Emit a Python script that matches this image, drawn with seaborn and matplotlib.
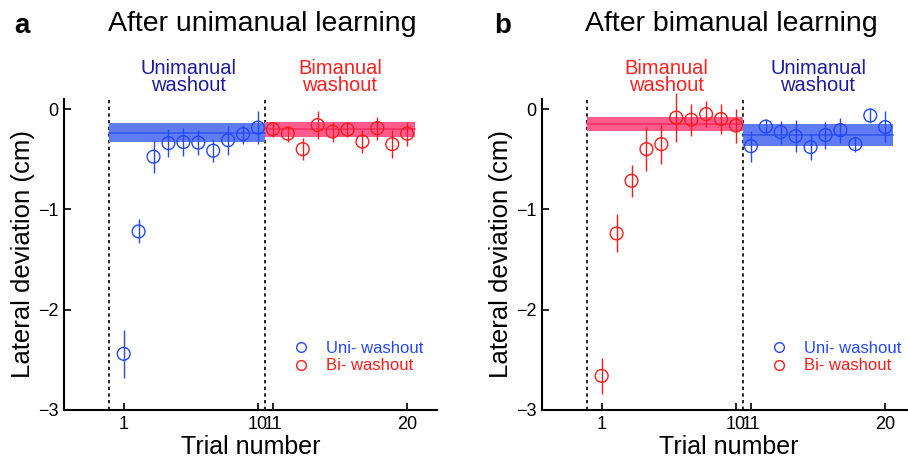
import matplotlib
matplotlib.use("Agg")
import matplotlib.pyplot as plt
import seaborn as sns
import numpy as np
from matplotlib.lines import Line2D

sns.set_style("ticks")
plt.rcParams['font.family'] = ['Liberation Sans', 'DejaVu Sans']
for k in ["text.color", "axes.labelcolor", "xtick.color", "ytick.color", "axes.edgecolor"]:
    plt.rcParams[k] = "black"

# ---- data ----
trials_first = [1, 2, 3, 4, 5, 6, 7, 8, 9, 10]
trials_second = [11, 12, 13, 14, 15, 16, 17, 18, 19, 20]
xtick_vals = [1, 10, 11, 20]
xtick_labels = ["1", "10", "11", "20"]
ytick_vals = [0, -1, -2, -3]

# panel a: after unimanual learning
a_uni_mean = [-2.44, -1.22, -0.475, -0.34, -0.33, -0.335, -0.415, -0.31, -0.25, -0.185]
a_uni_err = [0.24, 0.12, 0.165, 0.14, 0.14, 0.125, 0.115, 0.145, 0.095, 0.165]
a_bi_mean = [-0.20, -0.245, -0.40, -0.16, -0.225, -0.205, -0.325, -0.19, -0.35, -0.245]
a_bi_err = [0.075, 0.08, 0.11, 0.14, 0.10, 0.075, 0.115, 0.115, 0.14, 0.12]
a_band_uni = (-0.236, 0.092)
a_band_bi = (-0.200, 0.075)

# panel b: after bimanual learning
b_bi_mean = [-2.66, -1.24, -0.715, -0.40, -0.35, -0.085, -0.107, -0.05, -0.10, -0.165]
b_bi_err = [0.18, 0.19, 0.16, 0.22, 0.195, 0.245, 0.16, 0.13, 0.15, 0.17]
b_uni_mean = [-0.37, -0.175, -0.23, -0.27, -0.38, -0.26, -0.21, -0.35, -0.065, -0.18]
b_uni_err = [0.155, 0.075, 0.115, 0.16, 0.13, 0.135, 0.125, 0.08, 0.075, 0.16]
b_band_bi = (-0.152, 0.068)
b_band_uni = (-0.255, 0.110)

BLUE = "#2547ff"
RED = "#ff1a1a"
BLUE_BAND = "#5f7cf2"
RED_BAND = "#ff5c8d"
BLUE_LINE = "#3556f0"
RED_LINE = "#ff2f62"
NAVY = "#1c1ca0"
ANN_RED = "#ff2020"

W, H = 908, 463
fig = plt.figure(figsize=(W / 100, H / 100), dpi=100)

ax_w = 373 / W
ax_h = 311 / H
ax_b = (H - 410) / H
axes = [fig.add_axes([64 / W, ax_b, ax_w, ax_h]),
        fig.add_axes([542 / W, ax_b, ax_w, ax_h])]

panels = [
    dict(ax=axes[0], first=(a_uni_mean, a_uni_err, BLUE), second=(a_bi_mean, a_bi_err, RED),
         band1=(a_band_uni, BLUE_BAND, BLUE_LINE), band2=(a_band_bi, RED_BAND, RED_LINE),
         ann1=("Unimanual\nwashout", NAVY), ann2=("Bimanual\nwashout", ANN_RED),
         title="After unimanual learning", title_x=262, letter="a", letter_x=14),
    dict(ax=axes[1], first=(b_bi_mean, b_bi_err, RED), second=(b_uni_mean, b_uni_err, BLUE),
         band1=(b_band_bi, RED_BAND, RED_LINE), band2=(b_band_uni, BLUE_BAND, BLUE_LINE),
         ann1=("Bimanual\nwashout", ANN_RED), ann2=("Unimanual\nwashout", NAVY),
         title="After bimanual learning", title_x=731, letter="b", letter_x=494),
]

for p in panels:
    ax = p["ax"]
    # bands
    for (mean_sem, fc, lc), (x0, x1) in [(p["band1"], (0, 10.5)), (p["band2"], (10.5, 20.5))]:
        m, s = mean_sem
        ax.fill_between([x0, x1], [m - s, m - s], [m + s, m + s], color=fc, lw=0, zorder=1)
        ax.plot([x0, x1], [m, m], color=lc, lw=1.2, zorder=2)
    # dashed separators
    for xv in [0, 10.5]:
        ax.axvline(xv, color="black", ls=(0, (2, 2)), lw=1.2, zorder=0)
    # points
    for xs, (mean, err, c) in [(trials_first, p["first"]), (trials_second, p["second"])]:
        ax.errorbar(xs, mean, yerr=err, fmt="none", ecolor=c, elinewidth=1.0, capsize=0,
                    zorder=3, clip_on=False)
        sns.scatterplot(x=xs, y=mean, ax=ax, marker="o", s=85, facecolor="none",
                        edgecolor=c, linewidth=1.0, zorder=4, clip_on=False)
    # annotations
    ax.text(5.35, 0.32, p["ann1"][0], color=p["ann1"][1], ha="center", va="center",
            fontsize=14.5, linespacing=0.9, clip_on=False)
    ax.text(15.5, 0.32, p["ann2"][0], color=p["ann2"][1], ha="center", va="center",
            fontsize=14.5, linespacing=0.9, clip_on=False)

    ax.set_xlim(-3, 22)
    ax.set_ylim(-3, 0.1)
    ax.set_xticks(xtick_vals)
    ax.set_xticklabels(xtick_labels)
    ax.set_yticks(ytick_vals)
    ax.set_yticklabels([f"\u2212{abs(v)}" if v < 0 else str(v) for v in ytick_vals])
    ax.tick_params(direction="in", length=5, width=1.2, labelsize=13, pad=4)
    sns.despine(ax=ax)
    for sp in ["left", "bottom"]:
        ax.spines[sp].set_linewidth(1.5)
    ax.set_xlabel("Trial number", fontsize=18, labelpad=2)
    ax.set_ylabel("Lateral deviation (cm)", fontsize=18.5, labelpad=2)

    handles = [Line2D([], [], ls="none", marker="o", ms=7, mfc="none", mec=BLUE, mew=1.0),
               Line2D([], [], ls="none", marker="o", ms=7, mfc="none", mec=RED, mew=1.0)]
    ax.legend(handles, ["Uni- washout", "Bi- washout"], loc="center left",
              bbox_to_anchor=(0.59, 0.17), frameon=False, fontsize=12,
              labelcolor=[BLUE, RED], handlelength=1.0, handletextpad=1.0,
              borderpad=0, labelspacing=0.15)

    fig.text(p["title_x"] / W, 1 - 31 / H, p["title"], ha="center", va="baseline", fontsize=20.5)
    fig.text(p["letter_x"] / W, 1 - 33 / H, p["letter"], ha="left", va="baseline",
             fontsize=20, fontweight="bold")

fig.savefig("out.png", dpi=100)
